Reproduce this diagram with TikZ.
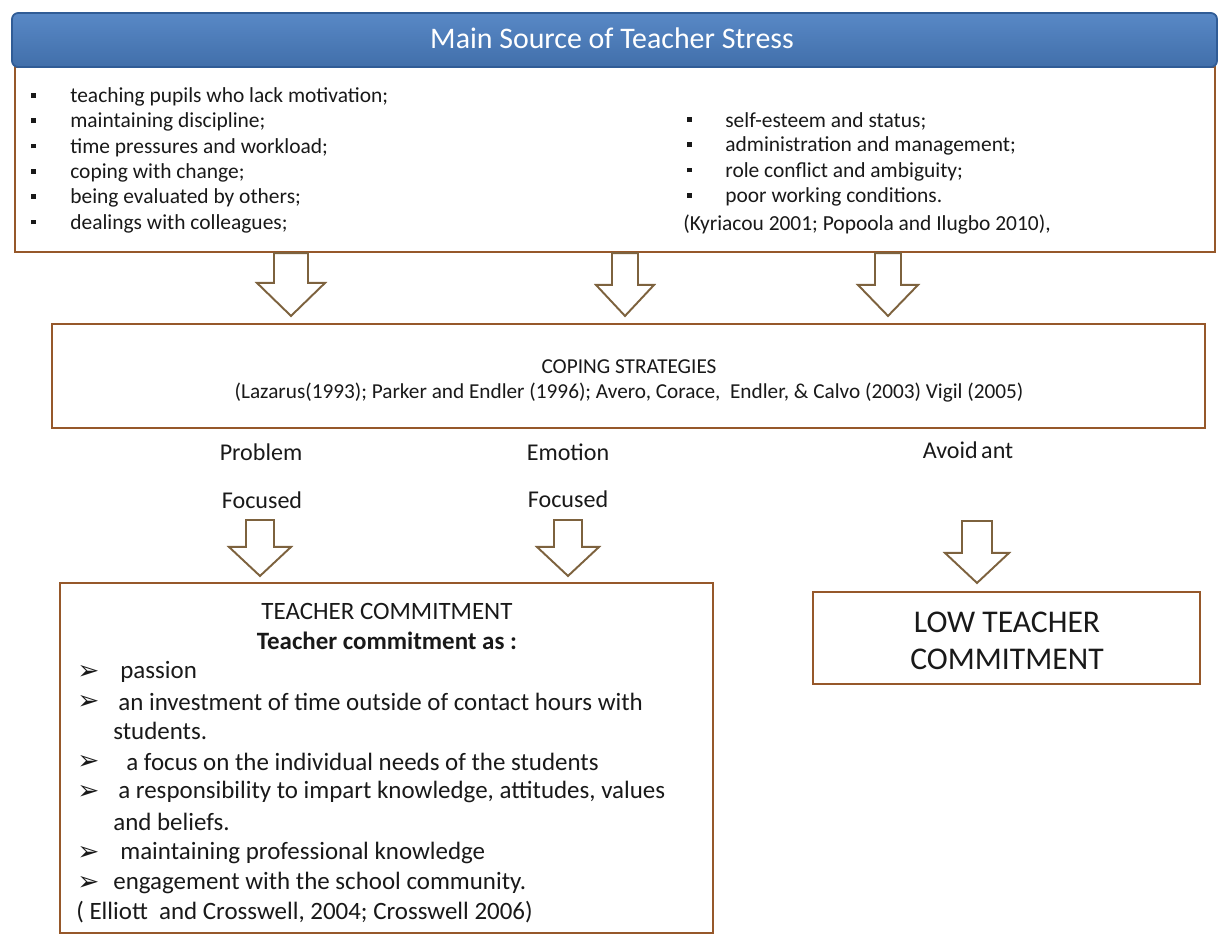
\documentclass[tikz,border=0pt]{standalone}
\usepackage{fontspec}
\setmainfont{Carlito}
\newfontfamily\symfont{DejaVu Sans}
\usepackage{xcolor}
\usepackage{tikz}
\usetikzlibrary{calc,fit}

\definecolor{headblue}{RGB}{74,126,193}
\definecolor{headedge}{RGB}{48,92,150}
\definecolor{boxedge}{RGB}{150,88,42}
\definecolor{arrowedge}{RGB}{125,98,62}
\definecolor{inktext}{RGB}{25,25,25}

\newcommand{\sqbullet}{\raisebox{0.3ex}{\rule{2.6pt}{2.6pt}}}
% hollow block arrow: top, tip, half shaft, half head, head length
\newcommand{\hollowdown}[5]{%
  \draw[blockarrow] ($(#1)+(-#3,0)$) -- ($(#2)+(-#3,-#5)$) -- ($(#2)+(-#4,-#5)$)
    -- (#2) -- ($(#2)+(#4,-#5)$) -- ($(#2)+(#3,-#5)$) -- ($(#1)+(#3,0)$) -- cycle;}

\tikzset{
  textbox/.style={draw=boxedge, line width=1.2pt, fill=white, inner sep=0pt},
  headbar/.style={draw=headedge, line width=1pt, rounded corners=3.5pt, inner sep=0pt,
    top color=headblue!92!white, bottom color=headblue!88!black},
  headtext/.style={text=white, font=\fontsize{17}{20}\selectfont},
  blockarrow/.style={draw=arrowedge, line width=1.1pt, fill=white, line join=miter},
  listtext/.style={anchor=west, inner sep=0pt, text=inktext, font=\fontsize{12.2}{14}\selectfont},
  smalltext/.style={inner sep=0pt, text=inktext, font=\fontsize{12.1}{14}\selectfont},
  labeltext/.style={inner sep=0pt, text=inktext, font=\fontsize{13.7}{16}\selectfont},
  bigtext/.style={anchor=west, inner sep=0pt, text=inktext, font=\fontsize{14.2}{17}\selectfont},
  lowtext/.style={align=center, text=inktext, font=\fontsize{18}{21}\selectfont},
}

\begin{document}
\begin{tikzpicture}[x=0.02cm, y=-0.02cm]
\useasboundingbox (0,0) rectangle (1219,940);

% sources of stress
\node[textbox, fit={(15,67) (1215,252)}] (sources) {};
\node[headbar, fit={(12,13) (1217,67)}] (header) {};
\node[headtext] (title) at (612,38) {Main Source of Teacher Stress};
\foreach \txt [count=\i] in {teaching pupils who lack motivation;, maintaining discipline;,
    time pressures and workload;, coping with change;, being evaluated by others;,
    dealings with colleagues;}{
  \node[listtext] (lbul\i) at (31,97+25.3*\i-25.3) {\sqbullet};
  \node[listtext] (left\i) at (70,97+25.3*\i-25.3) {\txt};
}
\foreach \txt [count=\i] in {self-esteem and status;, administration and management;,
    role conflict and ambiguity;, poor working conditions.}{
  \node[listtext] (rbul\i) at (687,121+25.3*\i-25.3) {\sqbullet};
  \node[listtext] (right\i) at (725,121+25.3*\i-25.3) {\txt};
}
\node[listtext] (srccite) at (683,224) {(Kyriacou 2001; Popoola and Ilugbo 2010),};

% coping strategies
\node[textbox, fit={(52,324) (1205,428)}] (coping) {};
\node[smalltext] (copetitle) at (629,367) {COPING STRATEGIES};
\node[smalltext] (copecite) at (629,393) {(Lazarus(1993); Parker and Endler (1996); Avero, Corace,\ \ Endler, \& Calvo (2003) Vigil (2005)};

\node[labeltext] (prob) at (261,452) {Problem};
\node[labeltext] (probfoc) at (262,500) {Focused};
\node[labeltext] (emo) at (568,452) {Emotion};
\node[labeltext] (emofoc) at (568,499) {Focused};
\node[labeltext] (avoid) at (968,450) {Avoid\kern2pt ant};

% teacher commitment
\node[textbox, fit={(60,583) (713,933)}] (commit) {};
\node[inner sep=0pt, text=inktext, font=\fontsize{14.2}{17}\selectfont] (ctitle) at (387,611) {TEACHER COMMITMENT};
\node[inner sep=0pt, text=inktext, font=\fontsize{14.2}{17}\selectfont\bfseries] (cas) at (387,641) {Teacher commitment as :};
\foreach \ty [count=\i] in {672,702,762,792,853,883}
  \node[anchor=west, inner sep=0pt, text=inktext, font=\fontsize{15}{17}\symfont] (cbul\i) at (77,\ty) {➢};
\foreach \tx/\ty/\txt [count=\i] in {120/672/passion,
    118/702/an investment of time outside of contact hours with,
    113/731/students.,
    126/762/a focus on the individual needs of the students,
    118/792/{a responsibility to impart knowledge, attitudes, values},
    113/822/and beliefs.,
    120/853/maintaining professional knowledge,
    113/883/engagement with the school community.,
    76/912/{( Elliott\ \ and Crosswell, 2004; Crosswell 2006)}}
  \node[bigtext] (citem\i) at (\tx,\ty) {\txt};

\node[textbox, lowtext, fit={(813,592) (1200,684)}] (lowbox) {};
\node[lowtext, inner sep=0pt] (lowtitle) at (1007,641) {LOW TEACHER\\COMMITMENT};

% arrows
\coordinate (a1s) at (sources.south -| 291,0);
\coordinate (a1t) at ($(coping.north -| 291,0)+(0,-7)$);
\coordinate (a2s) at (sources.south -| 625,0);
\coordinate (a2t) at ($(coping.north -| 625,0)+(0,-7)$);
\coordinate (a3s) at (sources.south -| 888,0);
\coordinate (a3t) at ($(coping.north -| 888,0)+(0,-7)$);
\hollowdown{a1s}{a1t}{17}{34}{33}
\hollowdown{a2s}{a2t}{13}{29}{31}
\hollowdown{a3s}{a3t}{13}{30}{31}

\coordinate (p1s) at (260,520);
\coordinate (p1t) at ($(commit.north -| 260,0)+(0,-6)$);
\coordinate (e1s) at (568,520);
\coordinate (e1t) at ($(commit.north -| 568,0)+(0,-6)$);
\coordinate (v1s) at (977,521);
\coordinate (v1t) at ($(lowbox.north -| 977,0)+(0,-8)$);
\hollowdown{p1s}{p1t}{14}{31}{29}
\hollowdown{e1s}{e1t}{14}{31}{29}
\hollowdown{v1s}{v1t}{15}{32}{30}
\end{tikzpicture}
\end{document}
